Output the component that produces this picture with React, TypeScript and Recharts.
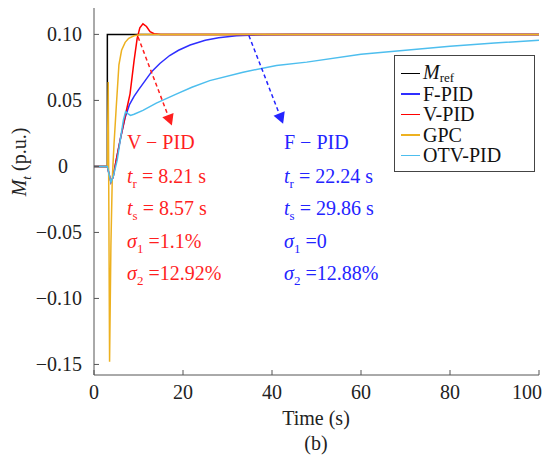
import React from "react";
import { LineChart, Line, XAxis, YAxis, ReferenceLine, Legend } from "recharts";

const xTicks = [0, 20, 40, 60, 80, 100];
const yTicks = [-0.15, -0.1, -0.05, 0, 0.05, 0.1];

const refTime = [0, 3, 3, 100];
const refValue = [0, 0, 0.1, 0.1];

const fpidTime = [0, 3, 3.4, 3.8, 4.3, 5, 6, 7, 8, 9, 10, 11.5, 13, 14.8, 17, 19, 21.6, 25, 28, 32, 38, 45, 100];
const fpidValue = [0, 0, -0.006, -0.012, -0.008, 0.005, 0.022, 0.037, 0.047, 0.053, 0.058, 0.065, 0.072, 0.078, 0.084, 0.088, 0.092, 0.0955, 0.0975, 0.099, 0.0997, 0.1, 0.1];

const vpidTime = [0, 3, 3.4, 3.8, 4.3, 5, 6, 7, 8.1, 9, 9.7, 10.3, 11, 11.8, 12.6, 13.5, 15, 100];
const vpidValue = [0, 0, -0.006, -0.012, -0.008, 0.005, 0.022, 0.038, 0.055, 0.08, 0.097, 0.105, 0.108, 0.106, 0.102, 0.1005, 0.1, 0.1];

const gpcTime = [0, 3, 3.2, 3.5, 3.8, 4.1, 4.5, 5, 5.6, 6.2, 7, 7.8, 9, 10.5, 100];
const gpcValue = [0, 0, 0.064, -0.148, -0.06, -0.01, 0.017, 0.045, 0.077, 0.088, 0.094, 0.097, 0.099, 0.1, 0.1];

const otvTime = [0, 3, 3.4, 3.8, 4.3, 5.2, 6, 6.6, 7.1, 7.6, 8.2, 9, 11, 14, 18.6, 22, 26, 33.5, 41, 47.8, 60, 70, 80, 90, 100];
const otvValue = [0, 0, -0.006, -0.012, -0.008, 0.0045, 0.022, 0.035, 0.0415, 0.04, 0.0386, 0.0395, 0.0424, 0.048, 0.055, 0.06, 0.065, 0.0714, 0.0765, 0.079, 0.085, 0.088, 0.091, 0.0935, 0.0955];

const zip = (t: number[], v: number[]) => t.map((x, i) => ({ t: x, v: v[i] }));

const font = "Liberation Serif, Times New Roman, serif";
const axisColor = "#555";
const textColor = "#222";
const red = "#ff1f1f";
const blue = "#2424ff";

const series = [
  { name: "Mref", color: "#000000", data: zip(refTime, refValue) },
  { name: "F-PID", color: "#2f2fff", data: zip(fpidTime, fpidValue) },
  { name: "V-PID", color: "#ff0000", data: zip(vpidTime, vpidValue) },
  { name: "GPC", color: "#edb120", data: zip(gpcTime, gpcValue) },
  { name: "OTV-PID", color: "#4dbeee", data: zip(otvTime, otvValue) },
];

const txt = { fontFamily: font, fontSize: 20 };

const LeftTick = (props: any) => {
  const { x, y, payload } = props;
  const v = payload.value;
  const label = v === 0 ? "0" : (v < 0 ? "\u2212" : "") + Math.abs(v).toFixed(2);
  return (
    <g>
      <line x1={x + 12} y1={y} x2={x + 17} y2={y} stroke={axisColor} />
      <text x={v === 0 ? x - 19 : x} y={y} dy="0.35em" textAnchor={v === 0 ? "middle" : "end"}
        style={txt} fill={textColor}>{label}</text>
    </g>
  );
};

const BottomTick = (props: any) => {
  const { x, y, payload } = props;
  const v = payload.value;
  return (
    <g>
      <line x1={x} y1={y} x2={x} y2={y - 5} stroke={axisColor} />
      <text x={v === 100 ? x + 3 : x} y={y + 24} textAnchor={v === 100 ? "end" : "middle"}
        style={txt} fill={textColor}>{v}</text>
    </g>
  );
};

const TopTick = (props: any) => (
  <line x1={props.x} y1={props.y} x2={props.x} y2={props.y + 5} stroke={axisColor} />
);

const RightTick = (props: any) => (
  <line x1={props.x} y1={props.y} x2={props.x - 5} y2={props.y} stroke={axisColor} />
);

const arrow = (color: string) => (p: any) => {
  const { x1, y1, x2, y2 } = p;
  const dx = x2 - x1;
  const dy = y2 - y1;
  const len = Math.hypot(dx, dy);
  const ux = dx / len;
  const uy = dy / len;
  const bx = x2 - ux * 11;
  const by = y2 - uy * 11;
  const pts = `${x2},${y2} ${bx - uy * 6},${by + ux * 6} ${bx + uy * 6},${by - ux * 6}`;
  return (
    <g>
      <line x1={x1} y1={y1} x2={bx} y2={by} stroke={color} strokeWidth={1.5} strokeDasharray="4 3" />
      <polygon points={pts} fill={color} />
    </g>
  );
};

const legendLabel = (name: string) =>
  name === "Mref" ? (
    <span style={{ lineHeight: "16px" }}>
      <i>M</i>
      <span style={{ fontSize: 13, position: "relative", top: 3 }}>ref</span>
    </span>
  ) : (
    name
  );

const LegendBox = () => (
  <div style={{ boxSizing: "border-box", border: "1px solid #444", background: "#fff", padding: "7px 0 6px 6px",
    fontFamily: font, fontSize: 20, color: "#111", width: 141, height: 117 }}>
    {series.map((e) => (
      <div key={e.name} style={{ display: "flex", alignItems: "center", height: 20.5, lineHeight: "18px", whiteSpace: "nowrap" }}>
        <span style={{ display: "inline-block", width: 19, height: 1.5, background: e.color, marginRight: 3 }} />
        {legendLabel(e.name)}
      </div>
    ))}
  </div>
);

const Sub = ({ s }: { s: string }) => (
  <tspan fontSize={13} dy={5}>{s}</tspan>
);

const Block = ({ x, color, title, tr, ts, s1, s2 }: any) => (
  <g style={txt} fill={color}>
    <text x={x} y={149}>{title}</text>
    <text x={x} y={183}><tspan fontStyle="italic">t</tspan><Sub s="r" /><tspan dy={-5}>{" = " + tr}</tspan></text>
    <text x={x} y={215}><tspan fontStyle="italic">t</tspan><Sub s="s" /><tspan dy={-5}>{" = " + ts}</tspan></text>
    <text x={x} y={248}><tspan fontStyle="italic">σ</tspan><Sub s="1" /><tspan dy={-5}>{" =" + s1}</tspan></text>
    <text x={x} y={280}><tspan fontStyle="italic">σ</tspan><Sub s="2" /><tspan dy={-5}>{" =" + s2}</tspan></text>
  </g>
);

export default function App() {
  return (
    <div style={{ position: "absolute", left: 0, top: 0, width: 544, height: 458, background: "#fff", fontFamily: font }}>
      <LineChart width={544} height={458} margin={{ top: 8, right: 5, left: 0, bottom: 0 }}>
        <XAxis dataKey="t" type="number" domain={[0, 100]} ticks={xTicks} interval={0} height={83}
          tickSize={0} tickMargin={0} stroke={axisColor} tick={<BottomTick />} allowDataOverflow />
        <XAxis xAxisId="top" orientation="top" type="number" domain={[0, 100]} ticks={xTicks} interval={0} height={0}
          tickSize={0} tickMargin={0} stroke={axisColor} tick={<TopTick />} allowDataOverflow />
        <YAxis type="number" domain={[-0.158, 0.12]} ticks={yTicks} interval={0} width={94}
          tickSize={0} tickMargin={12} stroke={axisColor} tick={<LeftTick />} allowDataOverflow />
        <YAxis yAxisId="right" orientation="right" type="number" domain={[-0.158, 0.12]} ticks={yTicks} interval={0} width={0}
          tickSize={0} tickMargin={0} stroke={axisColor} tick={<RightTick />} allowDataOverflow />
        {series.map((s) => (
          <Line key={s.name} data={s.data} dataKey="v" name={s.name} stroke={s.color} strokeWidth={1.5}
            dot={false} type="linear" isAnimationActive={false} />
        ))}
        <ReferenceLine segment={[{ x: 9.9, y: 0.098 }, { x: 17.5, y: 0.031 }]} ifOverflow="visible" shape={arrow(red)} />
        <ReferenceLine segment={[{ x: 34.8, y: 0.0992 }, { x: 42.5, y: 0.0323 }]} ifOverflow="visible" shape={arrow(blue)} />
        <Legend layout="horizontal" verticalAlign="middle" align="center" content={<LegendBox />}
          wrapperStyle={{ left: 394, top: 55, width: 141 }} />
      </LineChart>
      <svg width={544} height={458} style={{ position: "absolute", left: 0, top: 0, pointerEvents: "none" }}>
        <Block x={127} color={red} title={"V \u2212 PID"} tr="8.21 s" ts="8.57 s" s1="1.1%" s2="12.92%" />
        <Block x={284} color={blue} title={"F \u2212 PID"} tr="22.24 s" ts="29.86 s" s1="0" s2="12.88%" />
        <text x={316} y={425} textAnchor="middle" style={txt} fill={textColor}>Time (s)</text>
        <text x={316} y={450} textAnchor="middle" style={txt} fill={textColor}>(b)</text>
        <text x={26} y={162} transform="rotate(-90, 26, 162)" textAnchor="middle" style={txt} fill={textColor}>
          <tspan fontStyle="italic">M</tspan>
          <tspan fontStyle="italic" fontSize={13} dy={5}>t</tspan>
          <tspan dy={-5}> (p.u.)</tspan>
        </text>
      </svg>
    </div>
  );
}
